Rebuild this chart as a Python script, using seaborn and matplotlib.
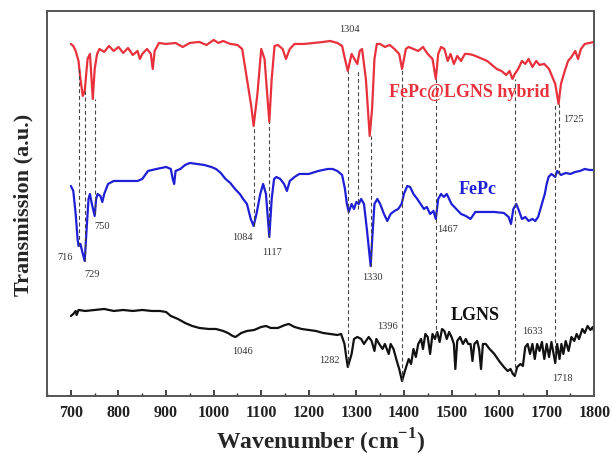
import matplotlib
matplotlib.use("Agg")
import matplotlib.pyplot as plt
import seaborn as sns
import pandas as pd
from matplotlib.ticker import MultipleLocator

# FTIR spectra (offset, arbitrary transmission units)
hybrid_wn = [700, 705, 710, 716, 720, 725, 729, 735, 740, 746, 750, 755, 760, 770, 780, 790, 800, 810,
             820, 830, 840, 845, 850, 860, 868, 872, 876, 885, 900, 920, 935, 950, 970, 985, 1000, 1010,
             1020, 1035, 1050, 1060, 1070, 1079, 1084, 1092, 1100, 1107, 1117, 1122, 1128, 1135, 1145, 1152,
             1160, 1170, 1190, 1210, 1230, 1245, 1260, 1270, 1276, 1282, 1290, 1302, 1307, 1312, 1320,
             1328, 1333, 1338, 1343, 1350, 1360, 1370, 1380, 1390, 1396, 1404, 1410, 1420, 1430, 1440,
             1450, 1460, 1467, 1472, 1478, 1485, 1492, 1498, 1505, 1512, 1520, 1528, 1535, 1545, 1555,
             1565, 1575, 1585, 1595, 1605, 1615, 1622, 1628, 1633, 1640, 1648, 1655, 1662, 1670, 1678,
             1685, 1695, 1705, 1712, 1718, 1725, 1730, 1738, 1745, 1752, 1760, 1766, 1772, 1780, 1790, 1800]
hybrid_t = [352, 350, 345, 335, 317, 300, 305, 337, 342, 297, 327, 342, 347, 344, 350, 345, 349, 343,
            348, 341, 345, 337, 342, 347, 342, 327, 345, 353, 352, 353, 349, 353, 354, 351, 356, 353,
            355, 352, 351, 347, 317, 290, 270, 302, 347, 337, 274, 317, 350, 351, 347, 337,
            347, 352, 352, 353, 354, 355, 353, 350, 337, 325, 342, 332, 345, 347, 317,
            260, 287, 337, 352, 352, 349, 351, 347, 342, 327, 347, 349, 347, 345, 349,
            342, 337, 317, 342, 349, 347, 335, 342, 332, 340, 335, 342, 342, 341, 339,
            337, 335, 331, 327, 325, 321, 325, 317, 322, 327, 335, 332, 337, 329, 335,
            331, 332, 327, 319, 312, 292, 312, 325, 335, 339, 345, 337, 347, 352, 353, 354]

fepc_wn = [700, 705, 710, 714, 716, 720, 725, 729, 733, 737, 740, 744, 750, 753, 756, 762, 766, 770, 778,
           790, 800, 820, 840, 850, 856, 862, 880, 900, 910, 914, 917, 920, 930, 940, 950, 965, 980, 995,
           1005, 1015, 1025, 1035, 1045, 1055, 1062, 1070, 1078, 1084, 1090, 1098, 1104, 1110, 1117,
           1122, 1127, 1132, 1140, 1148, 1154, 1160, 1170, 1180, 1200, 1220, 1240, 1250, 1260, 1270,
           1276, 1280, 1284, 1290, 1295, 1300, 1305, 1310, 1316, 1322, 1330, 1334, 1338, 1344, 1350,
           1358, 1365, 1372, 1380, 1388, 1395, 1400, 1407, 1413, 1420, 1428, 1435, 1442, 1448, 1455,
           1462, 1467, 1472, 1478, 1484, 1490, 1500, 1510, 1520, 1530, 1540, 1550, 1570, 1590, 1610,
           1620, 1625, 1630, 1636, 1642, 1648, 1655, 1662, 1670, 1676, 1682, 1690, 1696, 1700, 1704,
           1710, 1718, 1722, 1730, 1740, 1750, 1760, 1770, 1780, 1790, 1800]
fepc_t = [210, 205, 182, 157, 150, 152, 142, 135, 167, 197, 202, 192, 180, 197, 202, 200, 194, 202, 212,
          215, 215, 215, 215, 217, 221, 225, 227, 229, 227, 217, 212, 225, 227, 231, 233, 232, 231, 229,
          227, 223, 217, 213, 207, 202, 197, 192, 177, 170, 182, 202, 212, 202, 159,
          197, 217, 219, 217, 212, 205, 215, 219, 222, 222, 225, 227, 227, 225, 221,
          207, 192, 184, 192, 187, 194, 192, 197, 192, 167, 130, 162, 192, 197, 192,
          182, 175, 182, 185, 187, 192, 202, 210, 209, 202, 197, 192, 187, 189, 182,
          185, 177, 197, 202, 199, 202, 192, 187, 182, 180, 177, 184, 184, 184, 183,
          179, 172, 187, 192, 185, 177, 179, 175, 177, 175, 179, 192, 202, 212, 219,
          222, 219, 225, 221, 223, 222, 224, 225, 227, 226, 226]

lgns_wn = [700, 705, 710, 712, 716, 730, 750, 770, 790, 810, 830, 850, 870, 887, 900, 910, 925, 940, 955,
           970, 990, 1005, 1020, 1030, 1040, 1046, 1058, 1070, 1085, 1100, 1110, 1120, 1135, 1150, 1158,
           1170, 1185, 1200, 1215, 1230, 1245, 1260, 1268, 1275, 1279, 1282, 1290, 1295, 1302, 1310,
           1316, 1320, 1326, 1332, 1338, 1342, 1348, 1355, 1360, 1368, 1372, 1378, 1385, 1390, 1396,
           1402, 1410, 1415, 1420, 1425, 1430, 1436, 1440, 1445, 1450, 1455, 1460, 1465, 1470, 1475,
           1480, 1485, 1490, 1495, 1500, 1505, 1508, 1512, 1518, 1524, 1530, 1535, 1540, 1544, 1548,
           1554, 1558, 1562, 1566, 1572, 1580, 1590, 1600, 1610, 1618, 1624, 1629, 1633, 1638, 1645,
           1650, 1655, 1660, 1665, 1670, 1675, 1680, 1685, 1690, 1695, 1700, 1705, 1710, 1718, 1722,
           1727, 1731, 1735, 1740, 1746, 1752, 1758, 1763, 1768, 1775, 1780, 1786, 1792, 1797, 1800]
lgns_t = [80, 82, 85, 81, 86, 85, 86, 87, 85, 86, 85, 86, 85, 85, 84, 80, 77, 73, 70,
          68, 67, 67, 65, 63, 60, 59, 63, 65, 66, 69, 70, 68, 68, 71, 72,
          69, 67, 66, 65, 63, 62, 61, 62, 52, 38, 29, 42, 57, 59, 57,
          52, 55, 59, 55, 45, 57, 52, 47, 52, 42, 52, 47, 35, 27, 15,
          25, 37, 32, 47, 39, 52, 57, 47, 62, 59, 42, 62, 57, 64, 54,
          67, 65, 57, 64, 59, 52, 27, 55, 59, 52, 57, 52, 52, 35, 52,
          55, 47, 27, 52, 52, 47, 42, 35, 29, 25, 27, 22, 20, 29, 32,
          30, 49, 52, 42, 52, 37, 52, 45, 54, 37, 52, 39, 54, 33, 52,
          37, 52, 42, 55, 45, 59, 55, 62, 57, 67, 63, 70, 66, 69, 64]

# Marker lines: wavenumber, lower and upper end (a.u.)
mark_wn = [716, 729, 750, 1084, 1117, 1282, 1304, 1330, 1396, 1467, 1633, 1718, 1725]
mark_lo = [150, 135, 182, 170, 159, 29, 187, 130, 15, 60, 22, 40, 222]
mark_hi = [327, 305, 297, 270, 274, 325, 325, 260, 327, 317, 317, 292, 292]

# Peak annotations: text, wavenumber position, height (a.u.)
peak_txt = ["716", "729", "750", "1084", "1117", "1330", "1467", "1046", "1282", "1396", "1633",
            "1718", "1725", "1304"]
peak_x = [688, 744, 765, 1061, 1122, 1334, 1492, 1061, 1244, 1366, 1671, 1734, 1756, 1286]
peak_y = [139, 122, 170, 159, 144, 119, 167, 45, 36, 70, 65, 18, 277, 367]

sample_names = ["FePc@LGNS hybrid", "FePc", "LGNS"]
sample_colors = ["#e8313c", "#1f1fd6", "#111111"]
name_x = [1538, 1555, 1549]
name_y = [304, 207, 81]

sns.set_theme(style="white")
plt.rcParams["font.family"] = ["Liberation Serif", "DejaVu Serif"]
plt.rcParams["mathtext.fontset"] = "custom"
plt.rcParams["mathtext.rm"] = "Liberation Serif"
plt.rcParams["mathtext.bf"] = "Liberation Serif:bold"

fig = plt.figure(figsize=(6.12, 4.60), dpi=100)
ax = fig.add_axes([0.077, 0.137, 0.894, 0.837])

frames = [pd.DataFrame({"wn": hybrid_wn, "t": hybrid_t}),
          pd.DataFrame({"wn": fepc_wn, "t": fepc_t}),
          pd.DataFrame({"wn": lgns_wn, "t": lgns_t})]
for df, col in zip(frames, sample_colors):
    sns.lineplot(data=df, x="wn", y="t", color=col, linewidth=1.6, ax=ax, sort=False)

for w, lo, hi in zip(mark_wn, mark_lo, mark_hi):
    ax.vlines(w, lo, hi, colors="#444444", linestyles=(0, (3.5, 2.5)), linewidth=0.8)

for txt, x, y in zip(peak_txt, peak_x, peak_y):
    ax.text(x, y, txt, fontsize=7.5, color="#333333", ha="center", va="center")

for name, col, x, y in zip(sample_names, sample_colors, name_x, name_y):
    ax.text(x, y, name, fontsize=13, fontweight="bold", color=col, ha="center", va="center")

ax.set_xlim(650, 1800)
ax.set_ylim(0, 385)
ax.set_yticks([])
ax.xaxis.set_major_locator(MultipleLocator(100))
ax.xaxis.set_minor_locator(MultipleLocator(50))
ax.tick_params(axis="x", which="major", direction="in", length=4, width=1.2, bottom=True, top=False,
               labelsize=11.5, pad=6, colors="#222222")
ax.tick_params(axis="x", which="minor", direction="in", length=2.5, width=1.0, bottom=True, top=False)
for lbl in ax.get_xticklabels():
    lbl.set_fontweight("bold")
for s in ax.spines.values():
    s.set_color("#555555")
    s.set_linewidth(1.4)

ax.set_xlabel(r"Wavenumber (cm$^{\mathbf{-1}}$)", fontsize=17, fontweight="bold", labelpad=4)
ax.set_ylabel("Transmission (a.u.)", fontsize=16, fontweight="bold", labelpad=10)

fig.savefig("out.png", dpi=100)
